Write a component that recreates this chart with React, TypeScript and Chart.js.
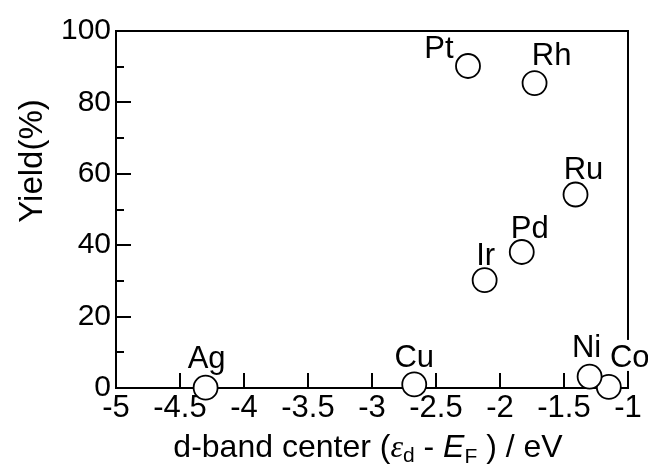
import React, { useEffect, useRef } from "react";
import { Chart, registerables } from "chart.js";

Chart.register(...registerables);

// ---- data ----
const metals = ["Ag", "Cu", "Ir", "Pd", "Pt", "Rh", "Ru", "Co", "Ni"];
const dBandCenter = [-4.3, -2.67, -2.12, -1.83, -2.25, -1.73, -1.41, -1.15, -1.3];
const yieldPct = [0.1, 1.0, 30.2, 38.1, 90.2, 85.4, 54.2, 0.3, 3.2];
const xTickValues = [-5, -4.5, -4, -3.5, -3, -2.5, -2, -1.5, -1];
const yTickValues = [0, 20, 40, 60, 80, 100];
const yMinorTickValues = [10, 30, 50, 70, 90];
const yTitle = "Yield(%)";

// label placement relative to point centre (presentation only)
const labelOffsets: Record<string, [number, number]> = {
  Ag: [1, -20],
  Cu: [0, -17],
  Ir: [1, -15],
  Pd: [8, -14],
  Pt: [-29, -8],
  Rh: [17, -18],
  Ru: [8, -16],
  Co: [21, -20],
  Ni: [-3, -20],
};
// labels that sit over the frame and hide it with a white box
const boxedLabels = new Set(["Co"]);

const FONT = "'Liberation Sans', Arial, sans-serif";

const decorPlugin = {
  id: "decor",
  beforeDatasetsDraw(chart: any) {
    const { ctx, chartArea, scales } = chart;
    const { left, right, top, bottom } = chartArea;
    const x = scales.x;
    const y = scales.y;
    ctx.save();
    ctx.strokeStyle = "#000";
    ctx.lineWidth = 2;
    ctx.strokeRect(left, top, right - left, bottom - top);
    ctx.beginPath();
    xTickValues.forEach((v) => {
      const px = Math.round(x.getPixelForValue(v));
      ctx.moveTo(px, bottom);
      ctx.lineTo(px, bottom - 15);
    });
    yTickValues.forEach((v) => {
      const py = Math.round(y.getPixelForValue(v));
      ctx.moveTo(left, py);
      ctx.lineTo(left + 15, py);
    });
    yMinorTickValues.forEach((v) => {
      const py = Math.round(y.getPixelForValue(v));
      ctx.moveTo(left, py);
      ctx.lineTo(left + 8, py);
    });
    ctx.stroke();
    ctx.restore();
  },
  afterDatasetsDraw(chart: any) {
    const { ctx } = chart;
    const meta = chart.getDatasetMeta(0);
    ctx.save();
    ctx.font = `31px ${FONT}`;
    ctx.textAlign = "center";
    ctx.textBaseline = "alphabetic";
    meta.data.forEach((pt: any, i: number) => {
      const name = metals[i];
      const [dx, dy] = labelOffsets[name] || [0, -16];
      const tx = pt.x + dx;
      const ty = pt.y + dy;
      if (boxedLabels.has(name)) {
        const w = ctx.measureText(name).width;
        ctx.fillStyle = "#fff";
        ctx.fillRect(tx - w / 2 - 1, ty - 27, w + 2, 31);
      }
      ctx.fillStyle = "#000";
      ctx.fillText(name, tx, ty);
    });
    ctx.restore();

    // y-axis title
    ctx.save();
    ctx.fillStyle = "#000";
    ctx.font = `33px ${FONT}`;
    ctx.textAlign = "center";
    ctx.textBaseline = "alphabetic";
    ctx.translate(42, 161);
    ctx.rotate(-Math.PI / 2);
    ctx.fillText(yTitle, 0, 0);
    ctx.restore();

    // x-axis title with italic symbols and subscripts
    ctx.save();
    ctx.fillStyle = "#000";
    ctx.textAlign = "left";
    ctx.textBaseline = "alphabetic";
    const base = 457;
    const parts: [string, string, number][] = [
      ["d-band center (", `32px ${FONT}`, 0],
      ["\u03B5", `italic 32px 'Liberation Serif', serif`, 0],
      ["d", `21px ${FONT}`, 5],
      [" - ", `32px ${FONT}`, 0],
      ["E", `italic 32px ${FONT}`, 0],
      ["F", `21px ${FONT}`, 6],
      [" ) / eV", `32px ${FONT}`, 0],
    ];
    let total = 0;
    parts.forEach(([t, f]) => {
      ctx.font = f;
      total += ctx.measureText(t).width;
    });
    let cx = 368 - total / 2;
    parts.forEach(([t, f, off]) => {
      ctx.font = f;
      ctx.fillText(t, cx, base + off);
      cx += ctx.measureText(t).width;
    });
    ctx.restore();
  },
};

export default function App() {
  const ref = useRef<HTMLCanvasElement | null>(null);

  useEffect(() => {
    if (!ref.current) return;
    const data = dBandCenter.map((xv, i) => ({ x: xv, y: yieldPct[i] }));
    const chart = new Chart(ref.current, {
      type: "scatter",
      data: {
        datasets: [
          {
            data,
            pointRadius: 12,
            pointHoverRadius: 12,
            pointBorderWidth: 1.8,
            pointBorderColor: "#000",
            pointBackgroundColor: "#fff",
            clip: false as any,
          },
        ],
      },
      options: {
        animation: false,
        responsive: false,
        events: [],
        layout: { padding: { top: 31, right: 20, left: 0, bottom: 0 } },
        plugins: { legend: { display: false }, tooltip: { enabled: false } },
        scales: {
          x: {
            type: "linear",
            min: -5,
            max: -1,
            afterBuildTicks: (s: any) => {
              s.ticks = xTickValues.map((v) => ({ value: v }));
            },
            afterFit: (s: any) => {
              s.height = 78;
            },
            grid: { display: false, drawTicks: false },
            border: { display: false },
            ticks: {
              font: { size: 31, family: FONT },
              color: "#000",
              padding: 2,
              maxRotation: 0,
              autoSkip: false,
              callback: (v: any) => String(Math.round(Number(v) * 10) / 10),
            },
          },
          y: {
            type: "linear",
            min: 0,
            max: 100,
            afterBuildTicks: (s: any) => {
              s.ticks = yTickValues.map((v) => ({ value: v }));
            },
            afterFit: (s: any) => {
              s.width = 116;
            },
            grid: { display: false, drawTicks: false },
            border: { display: false },
            ticks: {
              font: { size: 30, family: FONT },
              color: "#000",
              padding: 5,
              autoSkip: false,
              callback: (v: any) => String(v),
            },
          },
        },
      },
      plugins: [decorPlugin],
    });
    return () => chart.destroy();
  }, []);

  return (
    <div style={{ position: "absolute", left: 0, top: 0, width: 648, height: 466, background: "#fff" }}>
      <canvas ref={ref} width={648} height={466} />
    </div>
  );
}
